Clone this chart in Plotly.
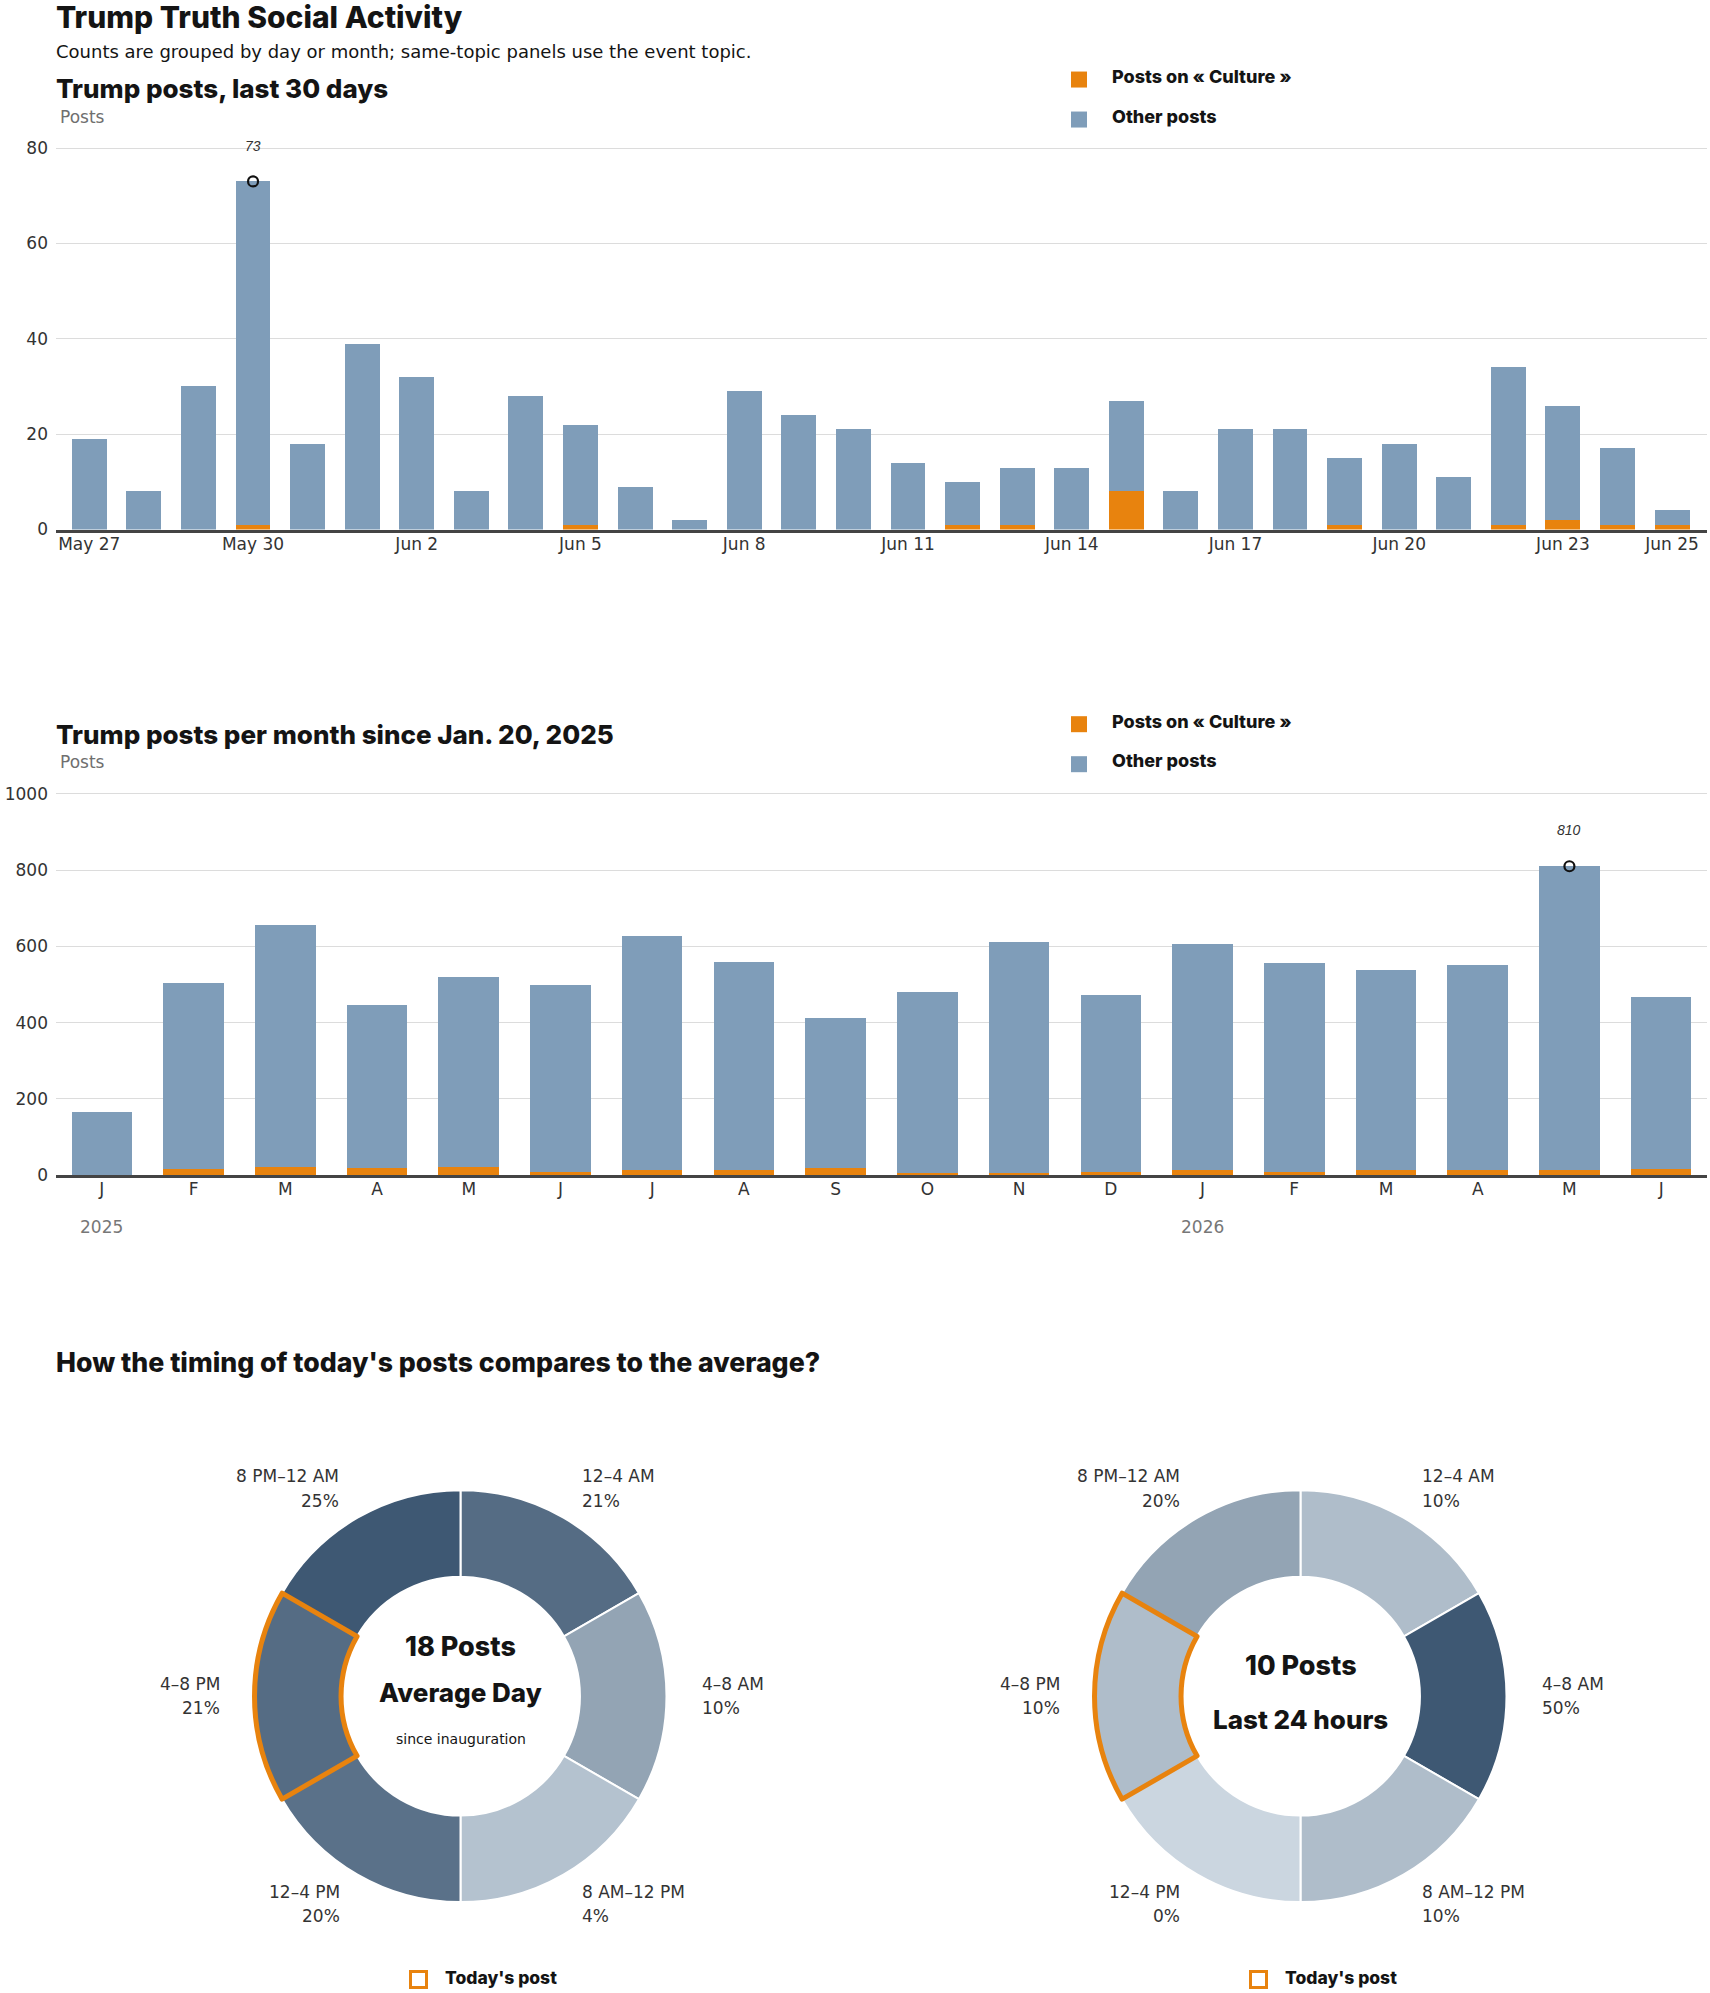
import math
import plotly.graph_objects as go

W, H = 1710, 1993

# ---------------- data ----------------
day_labels = ["May 27", "May 28", "May 29", "May 30", "May 31", "Jun 1", "Jun 2", "Jun 3",
              "Jun 4", "Jun 5", "Jun 6", "Jun 7", "Jun 8", "Jun 9", "Jun 10", "Jun 11",
              "Jun 12", "Jun 13", "Jun 14", "Jun 15", "Jun 16", "Jun 17", "Jun 18", "Jun 19",
              "Jun 20", "Jun 21", "Jun 22", "Jun 23", "Jun 24", "Jun 25"]
day_culture = [0, 0, 0, 1, 0, 0, 0, 0, 0, 1, 0, 0, 0, 0, 0, 0, 1, 1, 0, 8,
               0, 0, 0, 1, 0, 0, 1, 2, 1, 1]
day_other = [19, 8, 30, 72, 18, 39, 32, 8, 28, 21, 9, 2, 29, 24, 21, 14, 9, 12, 13, 19,
             8, 21, 21, 14, 18, 11, 33, 24, 16, 3]
day_ticks = ["May 27", "May 30", "Jun 2", "Jun 5", "Jun 8", "Jun 11", "Jun 14",
             "Jun 17", "Jun 20", "Jun 23", "Jun 25"]

month_keys = ["2025-01", "2025-02", "2025-03", "2025-04", "2025-05", "2025-06",
              "2025-07", "2025-08", "2025-09", "2025-10", "2025-11", "2025-12",
              "2026-01", "2026-02", "2026-03", "2026-04", "2026-05", "2026-06"]
month_letters = ["J", "F", "M", "A", "M", "J", "J", "A", "S", "O", "N", "D",
                 "J", "F", "M", "A", "M", "J"]
month_culture = [0, 17, 21, 19, 21, 8, 12, 12, 19, 6, 6, 8, 13, 8, 13, 13, 13, 17]
month_other = [166, 488, 634, 428, 499, 491, 616, 548, 394, 473, 606, 465,
               594, 549, 526, 537, 797, 451]
year_keys = ["2025-01", "2026-01"]
year_text = ["2025", "2026"]

slot_labels = ["12–4 AM", "4–8 AM", "8 AM–12 PM", "12–4 PM", "4–8 PM", "8 PM–12 AM"]
slot_weights = [1, 1, 1, 1, 1, 1]
avg_pct = [21, 10, 4, 20, 21, 25]
today_pct = [10, 50, 10, 0, 10, 20]
current_slot = "4–8 PM"
avg_posts = 18
posts_24h = 10

# ---------------- style ----------------
ORANGE = "#e8830e"
BLUE = "#7f9db9"
DARK = "#141414"
TXT = "#333333"
GREY = "#6f6f6f"
BODY = "DejaVu Sans"
HEAD = "Inter, Liberation Sans, sans-serif"
HW = 800
LIGHT_RGB = (203, 214, 224)
DARK_RGB = (62, 88, 115)


def px(x):
    return x / W


def py(y):
    # compensate the page's vertical offset/scale so marks land at the intended screen row
    return 1 - (y * 2009 / 1993 - 5.5) / H


def shade(p, pmax):
    t = p / pmax if pmax else 0
    c = [round(l + t * (d - l)) for l, d in zip(LIGHT_RGB, DARK_RGB)]
    return "rgb(%d,%d,%d)" % tuple(c)


fig = go.Figure()

# ---------------- chart 1: last 30 days ----------------
fig.add_trace(go.Bar(x=day_labels, y=day_culture, marker=dict(color=ORANGE, line=dict(width=0)),
                     width=0.64, xaxis="x", yaxis="y", name="Posts on « Culture »",
                     showlegend=False))
fig.add_trace(go.Bar(x=day_labels, y=day_other, marker=dict(color=BLUE, line=dict(width=0)),
                     width=0.64, xaxis="x", yaxis="y", name="Other posts", showlegend=False))
day_total = [c + o for c, o in zip(day_culture, day_other)]
i1 = day_total.index(max(day_total))
fig.add_trace(go.Scatter(x=[day_labels[i1]], y=[day_total[i1]], mode="markers",
                         marker=dict(symbol="circle-open", size=10, color="#111",
                                     line=dict(width=2.2, color="#111")),
                         xaxis="x", yaxis="y", showlegend=False, cliponaxis=False,
                         hoverinfo="skip"))

# ---------------- chart 2: monthly ----------------
fig.add_trace(go.Bar(x=month_keys, y=month_culture, marker=dict(color=ORANGE, line=dict(width=0)),
                     width=0.66, xaxis="x2", yaxis="y2", name="Posts on « Culture »",
                     showlegend=False))
fig.add_trace(go.Bar(x=month_keys, y=month_other, marker=dict(color=BLUE, line=dict(width=0)),
                     width=0.66, xaxis="x2", yaxis="y2", name="Other posts", showlegend=False))
month_total = [c + o for c, o in zip(month_culture, month_other)]
i2 = month_total.index(max(month_total))
fig.add_trace(go.Scatter(x=[month_keys[i2]], y=[month_total[i2]], mode="markers",
                         marker=dict(symbol="circle-open", size=10, color="#111",
                                     line=dict(width=2.2, color="#111")),
                         xaxis="x2", yaxis="y2", showlegend=False, cliponaxis=False,
                         hoverinfo="skip"))

# ---------------- donuts ----------------
R = 206
HOLE = 0.58
CY = 1695.7
donuts = [(460.5, avg_pct), (1300.5, today_pct)]
for cx, pct in donuts:
    dom = dict(x=[px(cx - R), px(cx + R)], y=[py(CY + R), py(CY - R)])
    pmax = max(pct)
    fig.add_trace(go.Pie(values=slot_weights, labels=slot_labels, sort=False,
                         direction="clockwise", rotation=0, hole=HOLE, domain=dom,
                         marker=dict(colors=[shade(p, pmax) for p in pct],
                                     line=dict(color="white", width=2)),
                         textinfo="none", hoverinfo="label", showlegend=False))
    fig.add_trace(go.Pie(values=slot_weights, labels=slot_labels, sort=False,
                         direction="clockwise", rotation=0, hole=HOLE, domain=dom,
                         marker=dict(colors=["rgba(0,0,0,0)"] * len(slot_labels),
                                     line=dict(color=[ORANGE if s == current_slot else "rgba(0,0,0,0)"
                                                      for s in slot_labels],
                                               width=[5 if s == current_slot else 0
                                                      for s in slot_labels])),
                         textinfo="none", hoverinfo="skip", showlegend=False))

# ---------------- axes ----------------
tickfont = dict(family=BODY, size=17, color=TXT)
c1_bottom, c1_top80 = 529, 147.5
c1_top = c1_bottom - (c1_bottom - c1_top80) * 81 / 80
c2_bottom, c2_top1000 = 1174.6, 793.3
c2_top = c2_bottom - (c2_bottom - c2_top1000) * 1010 / 1000

fig.update_layout(
    width=W, height=H, margin=dict(l=0, r=0, t=0, b=0),
    paper_bgcolor="white", plot_bgcolor="white", barmode="stack", showlegend=False,
    xaxis=dict(domain=[px(56), px(1707)], anchor="y", type="category",
               range=[-0.61, 29.64], tickmode="array", tickvals=day_ticks, ticktext=day_ticks,
               ticks="", showgrid=False, showline=True, linecolor="#444", linewidth=3,
               tickfont=tickfont, ticklabelstandoff=-3, fixedrange=True),
    yaxis=dict(domain=[py(c1_bottom), py(c1_top)], anchor="x", range=[0, 81],
               tickvals=[0, 20, 40, 60, 80], ticks="", showgrid=True, gridcolor="#dcdcdc",
               gridwidth=1, zeroline=False, showline=False, tickfont=tickfont,
               ticklabelstandoff=7, fixedrange=True),
    xaxis2=dict(domain=[px(56), px(1707)], anchor="y2", type="category",
                range=[-0.5, 17.5], tickmode="array", tickvals=month_keys, ticktext=month_letters,
                ticks="", showgrid=False, showline=True, linecolor="#444", linewidth=3,
                tickfont=tickfont, ticklabelstandoff=-3, fixedrange=True),
    yaxis2=dict(domain=[py(c2_bottom), py(c2_top)], anchor="x2", range=[0, 1010],
                tickvals=[0, 200, 400, 600, 800, 1000], ticks="", showgrid=True,
                gridcolor="#dcdcdc", gridwidth=1, zeroline=False, showline=False,
                tickfont=tickfont, ticklabelstandoff=7, fixedrange=True),
)

ann = []
shapes = []


def text(x, y, s, size, family=BODY, color=TXT, weight=None, xanchor="left", style=None):
    f = dict(family=family, size=size, color=color)
    if weight:
        f["weight"] = weight
    if style:
        f["style"] = style
    ann.append(dict(xref="paper", yref="paper", x=px(x), y=py(y), text=s, showarrow=False,
                    xanchor=xanchor, yanchor="middle", font=f, borderpad=0))


# headers
text(55, 16.5, "Trump Truth Social Activity", 30, HEAD, DARK, HW)
text(55, 50.5, "Counts are grouped by day or month; same-topic panels use the event topic.", 18,
     BODY, DARK)
text(55, 88, "Trump posts, last 30 days", 26, HEAD, DARK, HW)
text(59, 116.4, "Posts", 17, BODY, GREY)
text(55, 733.7, "Trump posts per month since Jan. 20, 2025", 26, HEAD, DARK, HW)
text(59, 762, "Posts", 17, BODY, GREY)
text(55, 1362, "How the timing of today's posts compares to the average?", 26.7, HEAD, DARK, HW)

# legends for bar charts
for dy in (0, 644.7):
    shapes.append(dict(type="rect", xref="paper", yref="paper", x0=px(1071), x1=px(1087),
                       y0=py(71 + dy), y1=py(87 + dy), fillcolor=ORANGE, line=dict(width=0)))
    shapes.append(dict(type="rect", xref="paper", yref="paper", x0=px(1071), x1=px(1087),
                       y0=py(111 + dy), y1=py(127 + dy), fillcolor=BLUE, line=dict(width=0)))
    text(1111, 76 + dy, "Posts on « Culture »", 18, HEAD, DARK, HW)
    text(1111, 115.8 + dy, "Other posts", 18, HEAD, DARK, HW)

# peak labels
ann.append(dict(xref="x", yref="y", x=day_labels[i1], y=day_total[i1], yshift=35.8,
                text=str(day_total[i1]), showarrow=False,
                font=dict(family="Liberation Sans", size=14, color=TXT, style="italic")))
ann.append(dict(xref="x2", yref="y2", x=month_keys[i2], y=month_total[i2], yshift=35.8,
                text=str(month_total[i2]), showarrow=False,
                font=dict(family="Liberation Sans", size=14, color=TXT, style="italic")))

# year labels
for k, t in zip(year_keys, year_text):
    ann.append(dict(xref="x2", yref="paper", x=k, y=py(1227), text=t, showarrow=False,
                    xanchor="center", yanchor="middle",
                    font=dict(family=BODY, size=17, color="#777777")))

# donut labels
RL = 240
for cx, pct in donuts:
    for k, (lab, p) in enumerate(zip(slot_labels, pct)):
        ang = math.radians(30 + 60 * k)
        lx = cx + RL * math.sin(ang)
        ly = CY - RL * math.cos(ang)
        anchor = "left" if math.sin(ang) > 0 else "right"
        text(lx, ly - 12.3, lab, 17, BODY, TXT, xanchor=anchor)
        text(lx, ly + 12.3, "%d%%" % p, 17, BODY, TXT, xanchor=anchor)

# donut centers
text(460.5, 1646, "%d Posts" % avg_posts, 27, HEAD, DARK, HW, xanchor="center")
text(460.5, 1692.5, "Average Day", 26, HEAD, DARK, HW, xanchor="center")
text(460.5, 1738.5, "since inauguration", 14, BODY, DARK, xanchor="center")
text(1300.5, 1665.3, "%d Posts" % posts_24h, 27, HEAD, DARK, HW, xanchor="center")
text(1300.5, 1719.3, "Last 24 hours", 26, HEAD, DARK, HW, xanchor="center")

# "Today's post" legends
for cx, _ in donuts:
    x0 = cx - 50
    shapes.append(dict(type="rect", xref="paper", yref="paper", x0=px(x0), x1=px(x0 + 16),
                       y0=py(1987), y1=py(1971), fillcolor="white",
                       line=dict(color=ORANGE, width=3)))
    text(cx - 17, 1977, "Today's post", 17.5, HEAD, DARK, HW)

fig.update_layout(annotations=ann, shapes=shapes)
fig.write_html("out.html")
